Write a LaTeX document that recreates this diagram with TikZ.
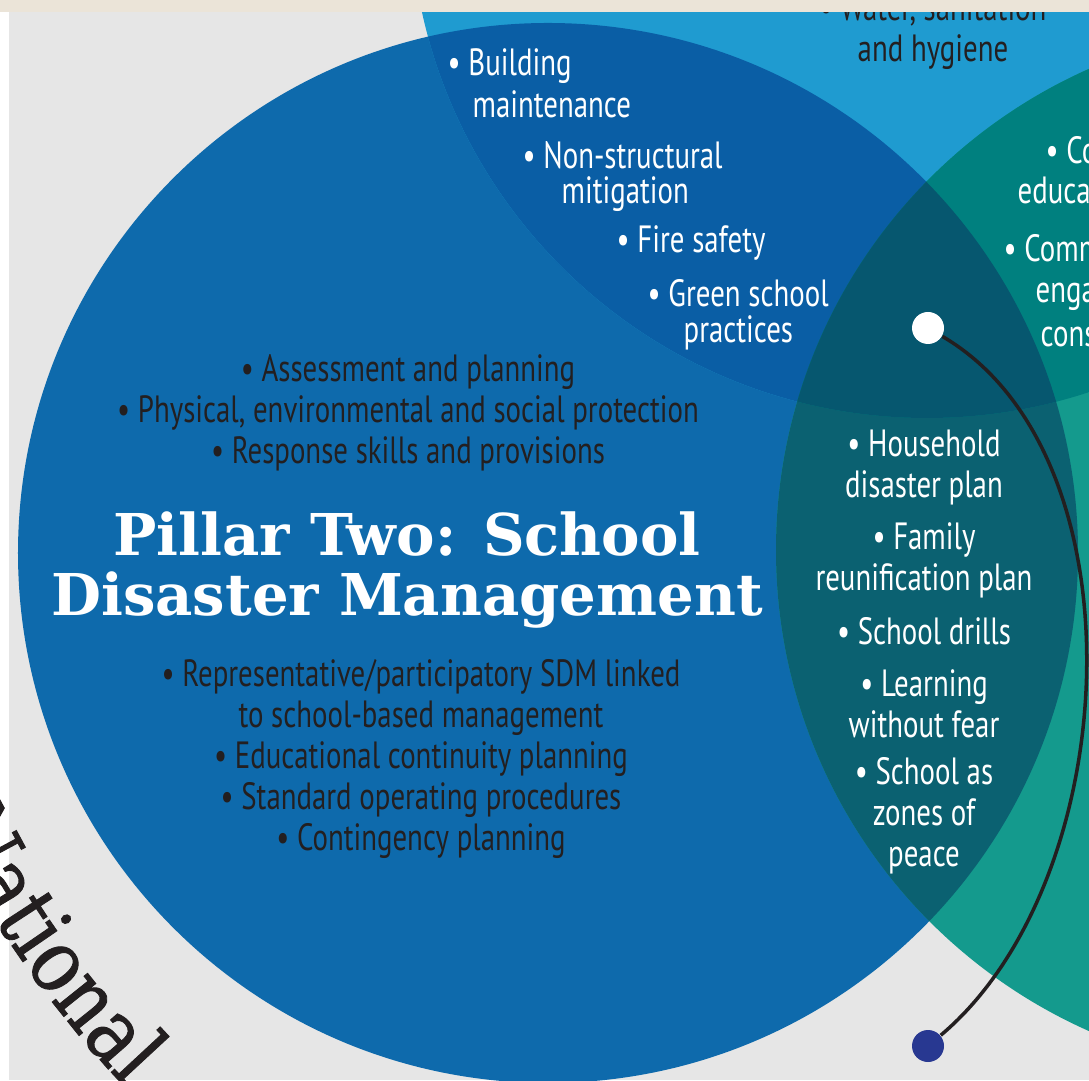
\documentclass[tikz,border=0pt]{standalone}
\usepackage{fontspec}
\setmainfont{PT Sans}[FakeStretch=0.76]
\newfontfamily\titlefont{DejaVu Serif}
\newfontfamily\ringfont{DejaVu Serif}[FakeStretch=0.85, FakeBold=1]
\usetikzlibrary{decorations.text}

\definecolor{bgGray}{HTML}{E6E6E6}
\definecolor{stripBeige}{HTML}{EBE4D8}
\definecolor{pillarOne}{HTML}{1F9BD0}
\definecolor{pillarTwo}{HTML}{0E6AAC}
\definecolor{pillarThree}{HTML}{149A8D}
\definecolor{oneTwo}{HTML}{0A5EA5}
\definecolor{oneThree}{HTML}{00807F}
\definecolor{twoThree}{HTML}{0B6171}
\definecolor{allThree}{HTML}{06576F}
\definecolor{inkDark}{HTML}{231F20}
\definecolor{dotNavy}{HTML}{283891}

\tikzset{
  darktext/.style={text=inkDark, font=\fontsize{10.8}{11.7}\selectfont, align=center, inner sep=0pt},
  whitetext/.style={text=white, font=\fontsize{10.8}{11.7}\selectfont, align=center, inner sep=0pt},
  whiteline/.style={whitetext, anchor=west},
  titletext/.style={text=white, font=\titlefont\bfseries\fontsize{16.4}{16.8}\selectfont, align=center, inner sep=0pt},
  dotnode/.style={circle, inner sep=0pt, minimum size=3.2mm, draw=none},
  link/.style={draw=inkDark, line width=1pt}
}

\begin{document}
\begin{tikzpicture}[x=1mm,y=1mm]

\useasboundingbox (0,0) rectangle (108.9,108);
\clip (0,0) rectangle (108.9,108);

% Background
\fill[bgGray] (0,0) rectangle (108.9,108);
\fill[white] (0,0) rectangle (0.9,106.8);

% Circle centres
\coordinate (cOne) at (92.7,117.9);
\coordinate (cTwo) at (54.8,52.7);
\coordinate (cThree) at (130.2,53.0);

% Circles
\fill[pillarTwo] (cTwo) circle[radius=53mm];
\fill[pillarOne] (cOne) circle[radius=51.7mm];
\fill[pillarThree] (cThree) circle[radius=52.6mm];

% Overlaps
\begin{scope}
  \clip (cTwo) circle[radius=53mm];
  \fill[oneTwo] (cOne) circle[radius=51.7mm];
  \fill[twoThree] (cThree) circle[radius=52.6mm];
\end{scope}
\begin{scope}
  \clip (cOne) circle[radius=51.7mm];
  \fill[oneThree] (cThree) circle[radius=52.6mm];
  \clip (cTwo) circle[radius=53mm];
  \fill[allThree] (cThree) circle[radius=52.6mm];
\end{scope}

% Pillar One text
\node[darktext] (water) at (93.3,104.8) {• Water, sanitation\\and hygiene};

% Pillar One and Two overlap
\node[whiteline] (buildA) at (44.7,101.4) {• Building};
\node[whiteline] (buildB) at (47.2,97.6) {maintenance};
\node[whiteline] (nonstrA) at (52.2,92.5) {• Non-structural};
\node[whiteline] (nonstrB) at (56.1,88.6) {mitigation};
\node[whiteline] (fire) at (61.6,83.7) {• Fire safety};
\node[whiteline] (greenA) at (64.7,78.7) {• Green school};
\node[whiteline] (greenB) at (68.3,74.7) {practices};

% Pillar One and Three overlap
\node[whiteline] (constrA) at (104.5,93.0) {• Construction as};
\node[whiteline] (constrB) at (101.7,89.0) {education};
\node[whiteline] (commA) at (100.3,82.8) {• Community};
\node[whiteline] (commB) at (103.5,78.7) {engagement in};
\node[whiteline] (commC) at (104.0,74.7) {construction};

% Pillar Two text
\node[darktext] (upper) at (40.8,66.7) {• Assessment and planning\\• Physical, environmental and social protection\\• Response skills and provisions};
\node[titletext] (title) at (40.7,51.0) {Pillar Two: School\\Disaster Management};
\node[darktext] (lower) at (42.1,32.1) {• Representative/participatory SDM linked\\to school-based management\\• Educational continuity planning\\• Standard operating procedures\\• Contingency planning};

% Pillar Two and Three overlap
\node[whitetext] (house) at (92.4,61.25) {• Household\\disaster plan};
\node[whitetext] (family) at (92.4,51.95) {• Family\\reunification plan};
\node[whitetext] (drills) at (92.4,44.9) {• School drills};
\node[whitetext] (fear) at (92.4,37.65) {• Learning\\without fear};
\node[whitetext] (peace) at (92.4,26.4) {• School as\\zones of\\peace};

% Dots and connector
\node[dotnode, fill=white] (wdot) at (92.8,75.2) {};
\node[dotnode, fill=dotNavy] (ndot) at (92.8,3.4) {};
\draw[link] (wdot) .. controls (114.5,62.5) and (112.5,20) .. (ndot);

% Outer ring text
\path[decorate, decoration={text along path, text={|\ringfont\fontsize{25}{25}\selectfont\color{inkDark}|National}}]
  (wdot.center) ++(206.6:110.5mm) arc[start angle=206.6, end angle=240, radius=110.5mm];

% Top strip
\fill[stripBeige] (0,106.8) rectangle (108.9,108);

\end{tikzpicture}
\end{document}
